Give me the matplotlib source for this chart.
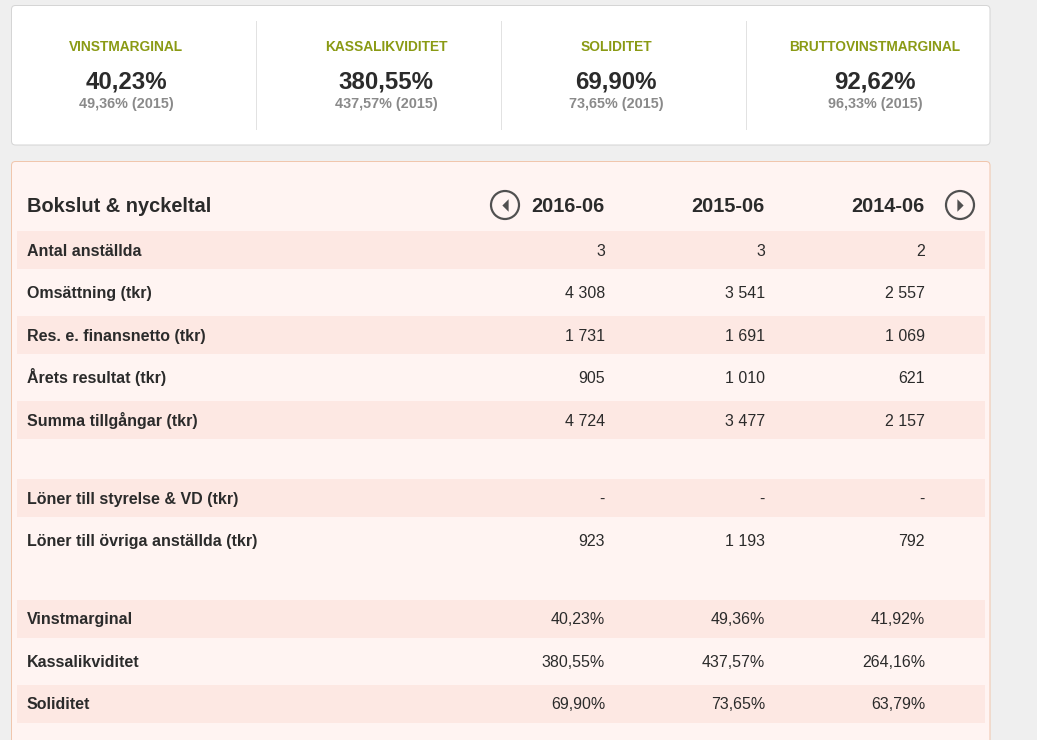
import matplotlib
matplotlib.use("Agg")
import matplotlib.pyplot as plt
from matplotlib.patches import FancyBboxPatch, Rectangle, Circle

# ---------------- data ----------------
kpi_names = ["VINSTMARGINAL", "KASSALIKVIDITET", "SOLIDITET", "BRUTTOVINSTMARGINAL"]
kpi_current = [40.23, 380.55, 69.90, 92.62]
kpi_previous = [49.36, 437.57, 73.65, 96.33]
kpi_prev_year = "2015"

title = "Bokslut & nyckeltal"
periods = ["2016-06", "2015-06", "2014-06"]

section1_labels = ["Antal anställda", "Omsättning (tkr)", "Res. e. finansnetto (tkr)",
                   "Årets resultat (tkr)", "Summa tillgångar (tkr)"]
antal_anstallda = [3, 3, 2]
omsattning = [4308, 3541, 2557]
res_finansnetto = [1731, 1691, 1069]
arets_resultat = [905, 1010, 621]
summa_tillgangar = [4724, 3477, 2157]

section2_labels = ["Löner till styrelse & VD (tkr)", "Löner till övriga anställda (tkr)"]
loner_styrelse_vd = [None, None, None]
loner_ovriga = [923, 1193, 792]

section3_labels = ["Vinstmarginal", "Kassalikviditet", "Soliditet"]
vinstmarginal = [40.23, 49.36, 41.92]
kassalikviditet = [380.55, 437.57, 264.16]
soliditet = [69.90, 73.65, 63.79]

sections = [
    (section1_labels, [antal_anstallda, omsattning, res_finansnetto, arets_resultat, summa_tillgangar], "int"),
    (section2_labels, [loner_styrelse_vd, loner_ovriga], "int"),
    (section3_labels, [vinstmarginal, kassalikviditet, soliditet], "pct"),
]

# ---------------- helpers ----------------
def fmt_int(v):
    if v is None:
        return "-"
    return f"{v:,}".replace(",", " ")

def fmt_pct(v):
    if v is None:
        return "-"
    return f"{v:.2f}".replace(".", ",") + "%"

# ---------------- style ----------------
FONT = "Liberation Sans"
plt.rcParams["font.family"] = [FONT, "DejaVu Sans"]
BG = "#efefef"
DARK = "#2b2b2b"
OLIVE = "#8a9a14"
GREY = "#8a8a8a"
PANEL = "#fff4f2"
STRIPE = "#fde8e3"
PANEL_EDGE = "#f0c6ad"

W, H = 1037, 740
fig = plt.figure(figsize=(W / 72, H / 72), dpi=72)
fig.patch.set_facecolor(BG)
ax = fig.add_axes([0, 0, 1, 1])
ax.set_xlim(0, W)
ax.set_ylim(H, 0)
ax.axis("off")

def txt(x, y, s, size, weight="normal", color=DARK, ha="left"):
    # y is the visual centre of capital letters
    ax.text(x, y + 0.358 * size, s, fontsize=size, fontweight=weight, color=color,
            ha=ha, va="baseline", family=[FONT, "DejaVu Sans"])

# ---------------- KPI card ----------------
card = FancyBboxPatch((11.5, 5.5), 978.5, 139.5, boxstyle="round,pad=0,rounding_size=4",
                      facecolor="white", edgecolor="#d5d5d5", linewidth=1)
ax.add_patch(card)
kpi_cx = [126, 386, 616, 875]
divider_x = [255.5, 500.5, 745.5]
for cx, name, cur, prev in zip(kpi_cx, kpi_names, kpi_current, kpi_previous):
    txt(cx, 46, name, 13.8, "bold", OLIVE, "center")
    txt(cx, 80, fmt_pct(cur), 24, "bold", DARK, "center")
    txt(cx, 103, f"{fmt_pct(prev)} ({kpi_prev_year})", 14.4, "bold", GREY, "center")
for dx in divider_x:
    ax.plot([dx, dx], [21, 129], color="#e2e2e2", lw=1)

# ---------------- table panel ----------------
panel = FancyBboxPatch((11.5, 161.5), 978.5, 600, boxstyle="round,pad=0,rounding_size=4",
                       facecolor=PANEL, edgecolor=PANEL_EDGE, linewidth=1)
ax.add_patch(panel)

txt(27, 205, title, 20, "bold", DARK)
col_x = [605, 765, 925]
for x, p in zip(col_x, periods):
    txt(x, 205, p, 20, "bold", DARK, "right")

# navigation circles
left_tri = [(0.5, 1), (0.5, -1), (-0.5, 0), (0.5, 1)]
right_tri = [(-0.5, 1), (-0.5, -1), (0.5, 0), (-0.5, 1)]
for cx, mk in [(505, left_tri), (960, right_tri)]:
    ax.add_patch(Circle((cx, 205), 14, facecolor="none", edgecolor="#505050", lw=2.2))
    ax.plot([cx], [205], marker=mk, markersize=12.5, color="#505050", mec="none", ls="none")

# rows
row_pitch = 42.5
stripe_h = 38
spacer = 35.5
y = 250
for s_idx, (labels, data, kind) in enumerate(sections):
    for r, (lab, vals) in enumerate(zip(labels, data)):
        if r % 2 == 0:
            ax.add_patch(Rectangle((17, y - stripe_h / 2), 968, stripe_h,
                                   facecolor=STRIPE, edgecolor="none"))
        txt(27, y, lab, 16, "bold", DARK)
        for x, v in zip(col_x, vals):
            s = fmt_int(v) if kind == "int" else fmt_pct(v)
            txt(x, y, s, 16, "normal", DARK, "right")
        y += row_pitch
    y += spacer

fig.savefig("out.png", dpi=72, facecolor=BG)
